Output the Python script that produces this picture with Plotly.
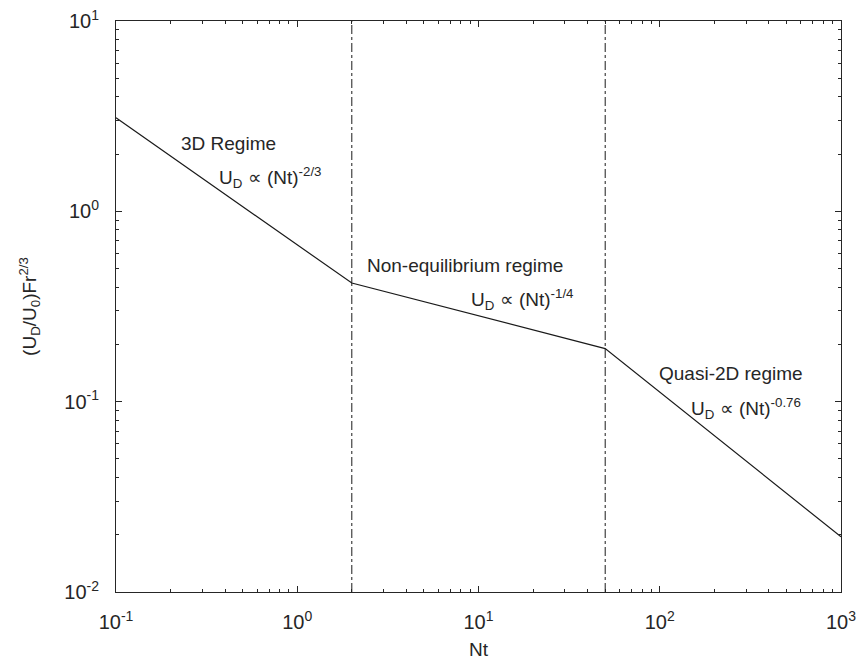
import plotly.graph_objects as go

# Data
nt_points = [0.1, 2, 50, 1000]
ud_points = [3.1, 0.42, 0.19, 0.0195]
boundaries = [2, 50]
y_range_vals = [0.01, 10]
x_tick_vals = [0.1, 1, 10, 100, 1000]
x_tick_text = ["10<sup>-1</sup>", "10<sup>0</sup>", "10<sup>1</sup>", "10<sup>2</sup>", "10<sup>3</sup>"]
y_tick_vals = [0.01, 0.1, 1, 10]
y_tick_text = ["10<sup>-2</sup>", "10<sup>-1</sup>", "10<sup>0</sup>", "10<sup>1</sup>"]

FONT = "Liberation Sans, Arial, Helvetica, sans-serif"
TXT = "#262626"

fig = go.Figure()
fig.add_trace(go.Scatter(x=nt_points, y=ud_points, mode="lines",
                         line=dict(color="#1a1a1a", width=1.2), showlegend=False))
for b in boundaries:
    fig.add_trace(go.Scatter(x=[b, b], y=y_range_vals, mode="lines",
                             line=dict(color="#1a1a1a", width=1, dash="dashdot"),
                             showlegend=False))

def ax(px):  # pixel -> log x
    return -1 + (px - 116) / 181.25
def ay(py):
    return 1 - (py - 21) / 190.33

annots = [
    ("3D Regime", 179, 143),
    ("U<sub>D</sub> \u221d (Nt)<sup>-2/3</sup>", 217, 177),
    ("Non-equilibrium regime", 365, 265),
    ("U<sub>D</sub> \u221d (Nt)<sup>-1/4</sup>", 469, 299),
    ("Quasi-2D regime", 657, 373),
    ("U<sub>D</sub> \u221d (Nt)<sup>-0.76</sup>", 689, 408),
]
for t, px, py in annots:
    fig.add_annotation(x=ax(px), y=ay(py), xref="x", yref="y", text=t,
                       showarrow=False, xanchor="left", yanchor="middle",
                       font=dict(family=FONT, size=19, color=TXT))

axis_common = dict(showgrid=False, zeroline=False, showline=True, linecolor=TXT,
                   linewidth=1, mirror="ticks", ticks="inside", ticklen=6,
                   tickcolor=TXT, tickfont=dict(family=FONT, size=20, color=TXT),
                   automargin=False,
                   minor=dict(ticks="inside", ticklen=3, tickcolor=TXT, dtick="D1",
                              showgrid=False))

fig.update_xaxes(type="log", range=[-1, 3], tickvals=x_tick_vals, ticktext=x_tick_text,
                 ticklabelstandoff=12,
                 title=dict(text="Nt", font=dict(family=FONT, size=19, color=TXT), standoff=10),
                 **axis_common)
fig.update_yaxes(type="log", range=[-2, 1], tickvals=y_tick_vals, ticktext=y_tick_text,
                 ticklabelstandoff=12,
                 title=dict(text="(U<sub>D</sub>/U<sub>0</sub>)Fr<sup>2/3</sup>",
                            font=dict(family=FONT, size=19, color=TXT), standoff=22),
                 **axis_common)

fig.update_layout(width=859, height=666, margin=dict(l=116, r=18, t=21, b=74),
                  plot_bgcolor="white", paper_bgcolor="white",
                  font=dict(family=FONT, color=TXT))
fig.write_html("out.html")
